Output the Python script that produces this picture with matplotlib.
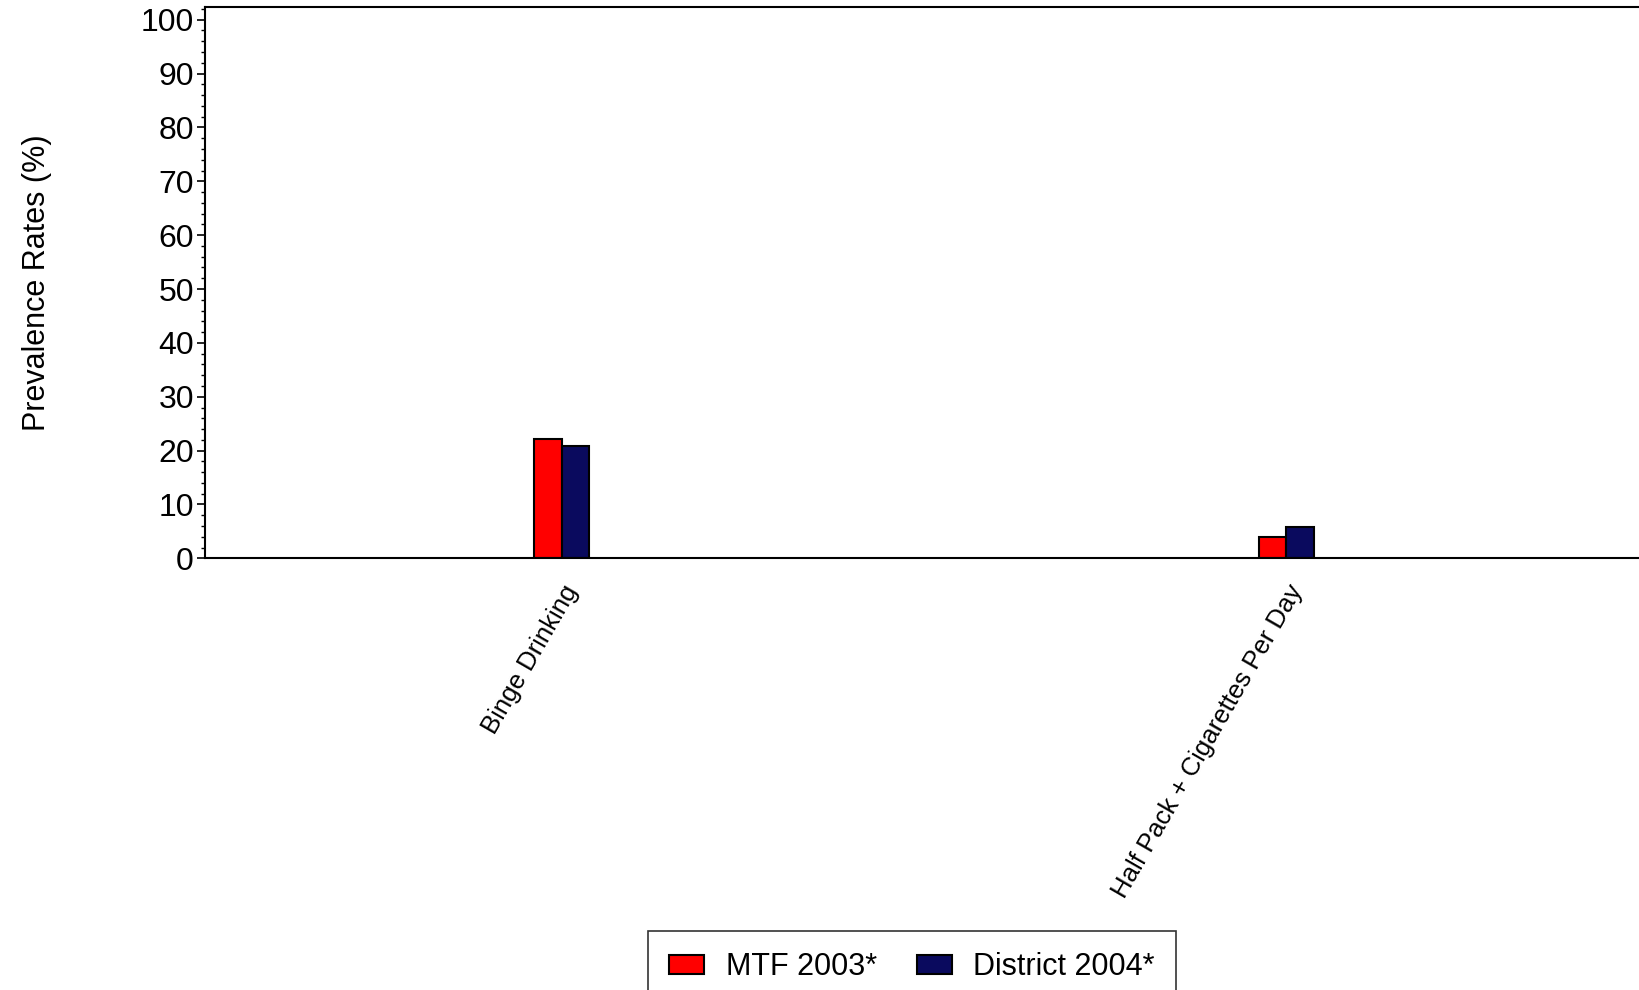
import matplotlib.pyplot as plt
from matplotlib.ticker import MultipleLocator
import numpy as np

categories = ["Binge Drinking", "Half Pack + Cigarettes Per Day"]
mtf_2003 = [22.1, 3.9]
district_2004 = [20.8, 5.8]
series_names = ["MTF 2003*", "District 2004*"]

plt.rcParams['font.family'] = ['Liberation Sans', 'DejaVu Sans']

fig = plt.figure(figsize=(16.4, 9.9), dpi=100)
ax = fig.add_axes([0.125, 0.436, 0.875, 0.5566])

x = np.arange(len(categories))
w = 0.038
ax.bar(x - w / 2, mtf_2003, w, color="#ff0000", edgecolor="black", linewidth=1.5, label=series_names[0])
ax.bar(x + w / 2, district_2004, w, color="#0a0a5e", edgecolor="black", linewidth=1.5, label=series_names[1])

ax.set_xlim(-0.492, 1.488)
ax.set_ylim(0, 102.3)
ax.yaxis.set_major_locator(MultipleLocator(10))
ax.yaxis.set_minor_locator(MultipleLocator(2))
ax.tick_params(axis="y", which="major", length=6, width=1.2, labelsize=23, pad=2)
ax.tick_params(axis="y", which="minor", length=3, width=1)
ax.set_xticks(x)
ax.set_xticklabels(categories, rotation=60, ha="right", rotation_mode="anchor", fontsize=18.5)
ax.tick_params(axis="x", length=0, pad=16)

ax.spines["right"].set_visible(False)
for s in ["left", "top", "bottom"]:
    ax.spines[s].set_linewidth(1.5)

ax.set_ylabel("Prevalence Rates (%)", fontsize=22, labelpad=64)

leg = fig.legend(loc="upper center", bbox_to_anchor=(0.556, 0.06), borderaxespad=0, ncol=2, fontsize=22,
                 frameon=True, fancybox=False, edgecolor="black", handlelength=1.15,
                 handleheight=0.6, columnspacing=1.3, handletextpad=0.7, borderpad=0.7)
leg.get_frame().set_linewidth(1.2)

fig.savefig("out.png", dpi=100)
